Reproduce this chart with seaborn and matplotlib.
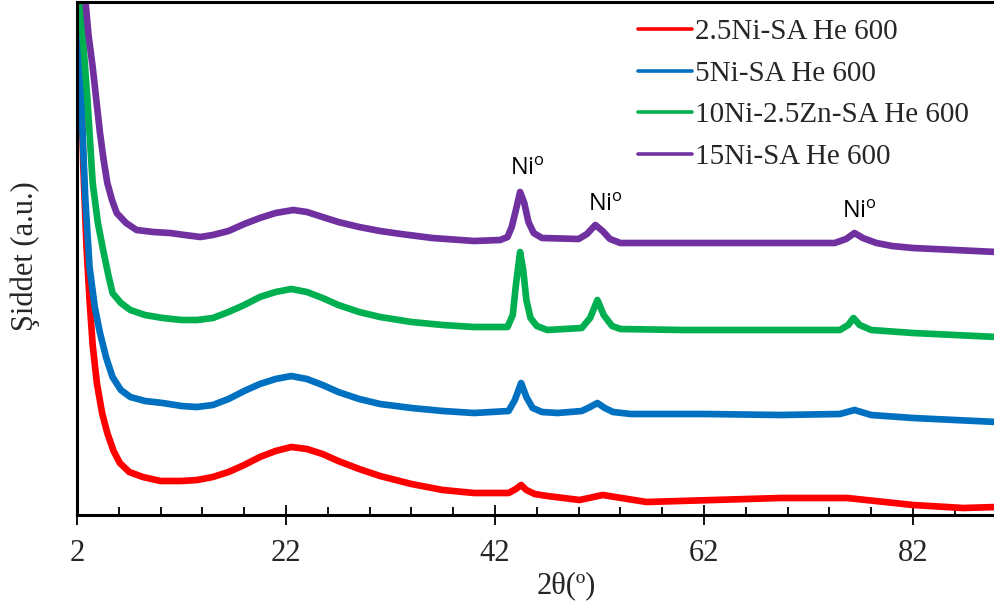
import matplotlib
matplotlib.use("Agg")
import matplotlib.pyplot as plt
from matplotlib.ticker import MultipleLocator
import pandas as pd
import seaborn as sns

# XRD patterns (2θ in degrees, intensity in arbitrary units, stacked offsets included)
labels = ["2.5Ni-SA He 600", "5Ni-SA He 600", "10Ni-2.5Zn-SA He 600", "15Ni-SA He 600"]
colors = ["#FF0000", "#0070C0", "#00B050", "#7030A0"]

x_red = [2.0, 2.2, 2.6, 2.9, 3.2, 3.5, 3.9, 4.4, 4.9, 5.5, 6.1, 7.0, 8.3, 10.0, 12.0,
         13.5, 15.0, 16.5, 18.0, 19.5, 21.0, 22.5, 24.0, 25.5, 27.0, 29.0, 31.0, 34.0,
         37.0, 40.0, 43.3, 44.0, 44.5, 45.0, 45.8, 47.0, 50.1, 52.3, 56.5, 62.9,
         69.3, 75.7, 82.0, 86.8, 90.0]
y_red = [560, 515, 350, 270, 215, 170, 132, 102, 82, 64, 52, 43, 38, 34, 34,
         35, 38, 43, 50, 58, 64, 68, 66, 61, 54, 46, 39, 31,
         25, 22, 22, 26, 30, 25, 21, 19, 15, 20, 13, 15,
         17, 17, 10, 7, 8]

x_blue = [2.0, 2.2, 2.5, 2.8, 3.2, 3.7, 4.2, 4.8, 5.4, 6.2, 7.1, 8.5, 10.2, 12.0, 13.5,
          15.0, 16.5, 18.0, 19.5, 21.0, 22.5, 24.0, 25.5, 27.0, 29.0, 31.0, 34.0, 37.0,
          40.0, 43.3, 43.9, 44.5, 45.0, 45.6, 46.5, 48.0, 50.3, 51.1, 51.8, 52.5, 53.3,
          55.0, 62.0, 69.3, 75.0, 76.4, 78.0, 82.0, 90.0]
y_blue = [560, 515, 390, 315, 248, 208, 182, 157, 138, 125, 118, 114, 112, 109, 108,
          110, 116, 124, 131, 136, 139, 136, 130, 123, 116, 111, 107, 104,
          102, 104, 115, 132, 118, 107, 103, 102, 104, 108, 112, 107, 103,
          101, 101, 100, 101, 105, 100, 97, 93]

x_green = [2.0, 2.3, 2.65, 3.0, 3.5, 4.0, 4.5, 5.0, 5.4, 6.2, 7.1, 8.5, 10.2, 12.0, 13.5,
           15.0, 16.5, 18.0, 19.5, 21.0, 22.5, 24.0, 25.5, 27.0, 29.0, 31.0, 34.0, 37.0,
           40.0, 43.2, 43.7, 44.0, 44.4, 44.7, 45.0, 45.4, 46.0, 47.0, 50.3, 51.1, 51.8,
           52.4, 53.2, 54.0, 60.0, 69.3, 75.0, 75.8, 76.3, 76.9, 78.0, 82.0, 90.0]
y_green = [560, 515, 465, 415, 332, 292, 265, 240, 222, 212, 205, 200, 197, 195, 195,
           197, 203, 210, 218, 223, 226, 223, 217, 210, 203, 198, 193, 190,
           188, 188, 200, 230, 263, 245, 215, 197, 189, 185, 187, 197, 215,
           200, 189, 186, 185, 185, 185, 190, 197, 190, 185, 182, 178]

x_purple = [2.5, 2.8, 3.1, 3.5, 3.85, 4.2, 4.55, 4.9, 5.35, 5.8, 6.7, 7.7, 9.3, 10.9,
            12.3, 13.8, 15.0, 16.5, 18.0, 19.5, 21.0, 22.7, 24.0, 25.5, 27.0, 29.0, 31.0,
            33.0, 36.0, 40.0, 42.5, 43.2, 43.6, 44.0, 44.4, 44.8, 45.2, 45.7, 46.5, 50.0,
            50.8, 51.6, 52.3, 53.0, 54.0, 60.0, 69.3, 74.5, 75.6, 76.4, 77.2, 78.5, 80.0,
            82.0, 90.0]
y_purple = [560, 515, 480, 448, 415, 382, 355, 332, 315, 302, 292, 285, 283, 282,
            280, 278, 280, 284, 291, 297, 302, 305, 303, 298, 293, 288, 284,
            281, 277, 274, 275, 278, 288, 305, 323, 312, 293, 282, 277, 276,
            281, 290, 284, 276, 272, 272, 272, 272, 276, 282, 277, 272, 269,
            267, 263]

tick_values = [2, 22, 42, 62, 82]

# Ni° reflections marked above the top pattern
peak_x = [45.1, 52.6, 76.9]
peak_y = [346, 310, 303]
peak_text = "Ni$^{\\mathrm{o}}$"

frames = []
for lab, xs, ys in zip(labels,
                       [x_red, x_blue, x_green, x_purple],
                       [y_red, y_blue, y_green, y_purple]):
    frames.append(pd.DataFrame({"2theta": xs, "I": ys, "sample": lab}))
df = pd.concat(frames, ignore_index=True)

sns.set_style("white")
plt.rcParams["font.family"] = ["Liberation Serif", "DejaVu Serif"]
plt.rcParams["mathtext.fontset"] = "custom"
plt.rcParams["mathtext.rm"] = "Open Sans"

fig = plt.figure(figsize=(9.94, 6.12), dpi=100)
ax = fig.add_axes([77 / 994, 1 - 515 / 612, 1 - 77 / 994, (515 - 2) / 612])

sns.lineplot(data=df, x="2theta", y="I", hue="sample", hue_order=labels,
             palette=colors, linewidth=4.8, sort=False, estimator=None, ax=ax)

ax.set_xlim(2, 89.75)
ax.set_ylim(0, 513)
ax.set_yticks([])
ax.set_xticks(tick_values)
ax.xaxis.set_minor_locator(MultipleLocator(4, offset=2))
ax.tick_params(axis="x", which="major", direction="inout", length=15, width=1.3,
               labelsize=22, pad=10, color="black", bottom=True)
ax.tick_params(axis="x", which="minor", direction="in", length=6, width=1.3,
               color="black", bottom=True)

for side in ["left", "bottom", "top"]:
    ax.spines[side].set_color("black")
    ax.spines[side].set_linewidth(2.2)
ax.spines["right"].set_visible(False)

ax.set_xlabel("2θ(º)", fontsize=22)
ax.xaxis.set_label_coords(0.534, -0.11)
ax.set_ylabel("Şiddet (a.u.)", fontsize=22)
ax.yaxis.set_label_coords(-0.04, 0.505)

for px, py in zip(peak_x, peak_y):
    ax.text(px, py, peak_text, fontsize=17, family="Open Sans",
            ha="center", va="center", color="black")

leg = ax.legend(loc="upper left", bbox_to_anchor=(0.599, 0.99), frameon=False,
                fontsize=21, handlelength=1.85, handletextpad=0.1,
                labelspacing=0.52, borderaxespad=0)
for line in leg.get_lines():
    line.set_linewidth(2.6)

fig.savefig("out.png", dpi=100)
